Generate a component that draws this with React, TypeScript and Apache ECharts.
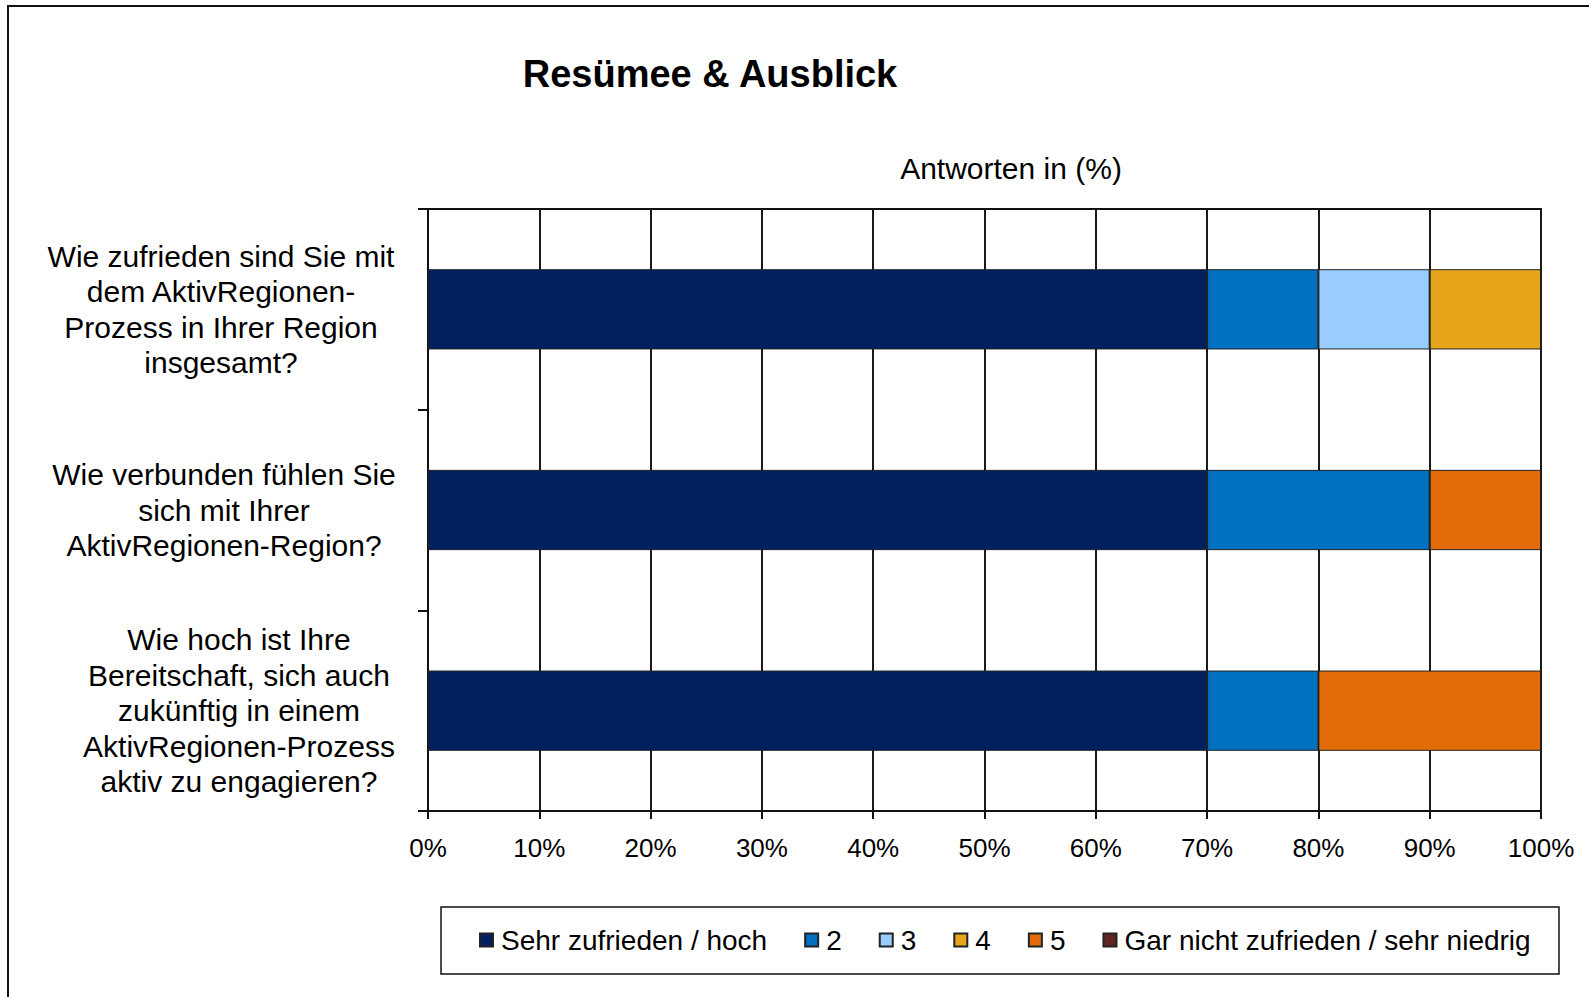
import React, { useEffect, useRef } from "react";
import * as echarts from "echarts";

const categories = [
  "Wie zufrieden sind Sie mit\ndem AktivRegionen-\nProzess in Ihrer Region\ninsgesamt?",
  "Wie verbunden fühlen Sie\nsich mit Ihrer\nAktivRegionen-Region?",
  "Wie hoch ist Ihre\nBereitschaft, sich auch\nzukünftig in einem\nAktivRegionen-Prozess\naktiv zu engagieren?",
];
const seriesNames = ["Sehr zufrieden / hoch", "2", "3", "4", "5", "Gar nicht zufrieden / sehr niedrig"];
const seriesColors = ["#00205F", "#0070C0", "#99CCFF", "#E6A51A", "#E36C0A", "#632523"];
const sehrZufrieden = [70, 70, 70];
const wert2 = [10, 20, 10];
const wert3 = [10, 0, 0];
const wert4 = [10, 0, 0];
const wert5 = [0, 10, 20];
const garNicht = [0, 0, 0];
const seriesValues = [sehrZufrieden, wert2, wert3, wert4, wert5, garNicht];
const labelPads = [[0, 6, 0, 0], [0, 0, 0, 0], [0, 0, 0, 30]];

const FONT = "'Liberation Sans', Arial, sans-serif";

export default function App() {
  const ref = useRef<HTMLDivElement>(null);
  useEffect(() => {
    if (!ref.current) return;
    const chart = echarts.init(ref.current, null, { renderer: "svg" });
    chart.setOption({
      animation: false,
      backgroundColor: "#fff",
      textStyle: { fontFamily: FONT },
      graphic: [
        { type: "rect", shape: { x: 8, y: 6, width: 3000, height: 3000 }, style: { fill: "none", stroke: "#111", lineWidth: 2 }, silent: true },
        { type: "rect", shape: { x: 441, y: 907, width: 1118, height: 67 }, style: { fill: "none", stroke: "#111", lineWidth: 1.5 }, silent: true },
        { type: "text", x: 710, y: 74, style: { text: "Resümee & Ausblick", font: `bold 38px ${FONT}`, fill: "#000", textAlign: "center", textVerticalAlign: "middle" } },
        { type: "text", x: 1011, y: 168, style: { text: "Antworten in (%)", font: `30px ${FONT}`, fill: "#000", textAlign: "center", textVerticalAlign: "middle" } },
      ],
      grid: { left: 428, right: 48, top: 209, bottom: 186, show: true, borderColor: "#111", borderWidth: 2, backgroundColor: "transparent", outerBoundsMode: "none", containLabel: false },
      legend: {
        left: 479,
        top: 925,
        padding: 0,
        itemGap: 37,
        itemWidth: 13,
        itemHeight: 13,
        icon: "rect",
        data: seriesNames,
        textStyle: { fontSize: 28, lineHeight: 30, color: "#000", fontFamily: FONT, padding: [0, 0, 0, 3] },
      },
      xAxis: {
        type: "value",
        min: 0,
        max: 100,
        interval: 10,
        axisLine: { show: true, lineStyle: { color: "#111", width: 2 } },
        axisTick: { show: true, length: 8, lineStyle: { color: "#111", width: 2 } },
        axisLabel: { formatter: "{value}%", fontSize: 26, color: "#000", margin: 24, fontFamily: FONT },
        splitLine: { show: true, lineStyle: { color: "#1a1a1a", width: 2 } },
      },
      yAxis: {
        type: "category",
        inverse: true,
        data: categories.map((c, i) => ({ value: c, textStyle: { padding: labelPads[i], align: "center" } })),
        axisLine: { show: true, lineStyle: { color: "#111", width: 2 } },
        axisTick: { show: true, length: 10, lineStyle: { color: "#111", width: 2 } },
        axisLabel: { fontSize: 30, lineHeight: 35.5, color: "#000", align: "center", margin: 204, fontFamily: FONT },
        splitLine: { show: false },
      },
      series: seriesNames.map((name, i) => ({
        name,
        type: "bar",
        stack: "total",
        barWidth: "40%",
        data: seriesValues[i].map((v) => (v === 0 ? null : v)),
        itemStyle: { color: seriesColors[i], borderColor: "#222", borderWidth: 1 },
      })),
    });
    return () => chart.dispose();
  }, []);
  return <div ref={ref} style={{ position: "absolute", left: 0, top: 0, width: 1589, height: 997 }} />;
}
